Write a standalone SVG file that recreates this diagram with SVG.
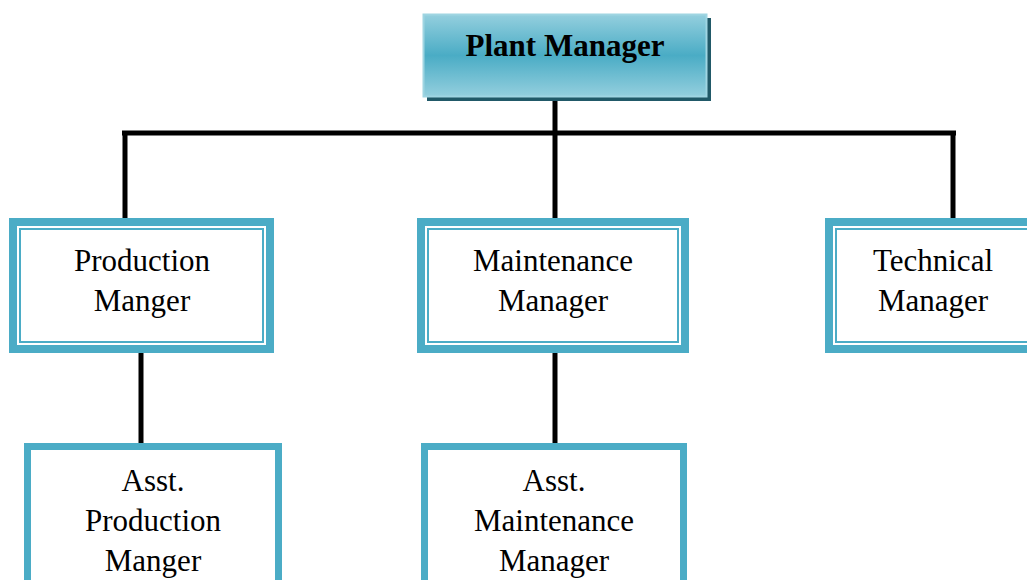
<svg xmlns="http://www.w3.org/2000/svg" width="1027" height="580" viewBox="0 0 1027 580">
  <defs>
    <linearGradient id="headFill" x1="0" y1="0" x2="0" y2="1">
      <stop offset="0" stop-color="#94cfde"/>
      <stop offset="0.5" stop-color="#4aacc5"/>
      <stop offset="1" stop-color="#94cfde"/>
    </linearGradient>
  </defs>
  <style>
    .wire { stroke: #000; stroke-width: 5; fill: none; stroke-linecap: butt; }
    .outer { fill: #fff; stroke: #4bacc6; stroke-width: 8; }
    .inner { fill: none; stroke: #4bacc6; stroke-width: 2; }
    .single { fill: #fff; stroke: #4bacc6; stroke-width: 7; }
    .lbl { font-family: "Liberation Serif", "Times New Roman", serif; font-size: 31px; fill: #000; text-anchor: middle; }
    .head { font-family: "Liberation Serif", "Times New Roman", serif; font-size: 31px; font-weight: bold; fill: #000; text-anchor: middle; }
  </style>

  <!-- reporting lines -->
  <g id="connectors">
    <path class="wire" d="M555 96 V133"/>
    <path class="wire" d="M122 133 H956"/>
    <path class="wire" d="M125 133 V219"/>
    <path class="wire" d="M555 133 V219"/>
    <path class="wire" d="M953 133 V219"/>
    <path class="wire" d="M141 352 V444"/>
    <path class="wire" d="M555 352 V444"/>
  </g>

  <g id="plant-manager">
    <rect x="427" y="18" width="284" height="83" fill="#215968"/>
    <rect x="423.5" y="14.5" width="283" height="82" fill="url(#headFill)" stroke="#9fd5e2" stroke-width="2"/>
    <text class="head" x="565" y="56">Plant Manager</text>
  </g>

  <g id="production-manager">
    <rect class="outer" x="13" y="222" width="257" height="127"/>
    <rect class="inner" x="20" y="229" width="243" height="113"/>
    <text class="lbl" x="142" y="271">Production</text>
    <text class="lbl" x="142" y="311">Manger</text>
  </g>

  <g id="maintenance-manager">
    <rect class="outer" x="421" y="222" width="264" height="127"/>
    <rect class="inner" x="428" y="229" width="250" height="113"/>
    <text class="lbl" x="553" y="271">Maintenance</text>
    <text class="lbl" x="553" y="311">Manager</text>
  </g>

  <g id="technical-manager">
    <rect class="outer" x="829" y="222" width="208" height="127"/>
    <rect class="inner" x="836" y="229" width="194" height="113"/>
    <text class="lbl" x="933" y="271">Technical</text>
    <text class="lbl" x="933" y="311">Manager</text>
  </g>

  <g id="asst-production-manager">
    <rect class="single" x="27.5" y="446.5" width="251" height="150"/>
    <text class="lbl" x="153" y="491">Asst.</text>
    <text class="lbl" x="153" y="531">Production</text>
    <text class="lbl" x="153" y="571">Manger</text>
  </g>

  <g id="asst-maintenance-manager">
    <rect class="single" x="424.5" y="446.5" width="259" height="150"/>
    <text class="lbl" x="554" y="491">Asst.</text>
    <text class="lbl" x="554" y="531">Maintenance</text>
    <text class="lbl" x="554" y="571">Manager</text>
  </g>
</svg>
